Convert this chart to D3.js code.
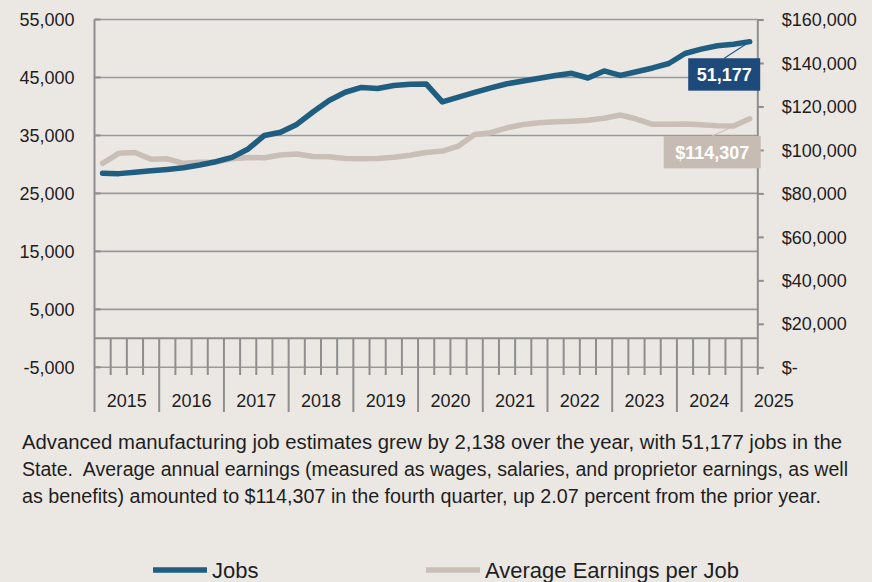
<!DOCTYPE html>
<html>
<head>
<meta charset="utf-8">
<script src="https://cdn.jsdelivr.net/npm/d3@7"></script>
<style>
  html, body { margin: 0; padding: 0; background: #ebe8e4; }
  svg { display: block; }
  text { font-family: "Liberation Sans", Arial, sans-serif; fill: #1e1e1e; }
</style>
</head>
<body>
<svg id="chart" width="872" height="582"></svg>
<script>
// ---------------- DATA ----------------
const quarters = [
  "2015 Q1","2015 Q2","2015 Q3","2015 Q4",
  "2016 Q1","2016 Q2","2016 Q3","2016 Q4",
  "2017 Q1","2017 Q2","2017 Q3","2017 Q4",
  "2018 Q1","2018 Q2","2018 Q3","2018 Q4",
  "2019 Q1","2019 Q2","2019 Q3","2019 Q4",
  "2020 Q1","2020 Q2","2020 Q3","2020 Q4",
  "2021 Q1","2021 Q2","2021 Q3","2021 Q4",
  "2022 Q1","2022 Q2","2022 Q3","2022 Q4",
  "2023 Q1","2023 Q2","2023 Q3","2023 Q4",
  "2024 Q1","2024 Q2","2024 Q3","2024 Q4",
  "2025 Q1"
];
const years = ["2015","2016","2017","2018","2019","2020","2021","2022","2023","2024","2025"];
const jobs = [
  28480, 28410, 28660, 28910,
  29140, 29430, 29910, 30470,
  31210, 32670, 35000, 35550,
  36900, 39050, 41030, 42450,
  43280, 43090, 43620, 43830,
  43880, 40780, 41590, 42410,
  43190, 43910, 44400, 44860,
  45350, 45720, 44910, 46120,
  45350, 45980, 46640, 47410,
  49140, 49880, 50470, 50720,
  51177
];
const earnings = [
  93840, 98440, 98810, 95680,
  95910, 93840, 94350, 94440,
  95910, 96510, 96370, 97660,
  98120, 96970, 96880, 96050,
  95960, 96050, 96600, 97570,
  98810, 99500, 101800, 107090,
  107920, 110170, 111690, 112470,
  112930, 113210, 113620, 114540,
  116060, 114220, 111780, 111780,
  111920, 111550, 111140, 111000,
  114307
];
const leftTicks = [-5000, 5000, 15000, 25000, 35000, 45000, 55000];
const rightTicks = [0, 20000, 40000, 60000, 80000, 100000, 120000, 140000, 160000];
const seriesNames = ["Jobs", "Average Earnings per Job"];
const jobsLabel = "51,177";
const earningsLabel = "$114,307";
const noteLines = [
  "Advanced manufacturing job estimates grew by 2,138 over the year, with 51,177 jobs in the",
  "State.  Average annual earnings (measured as wages, salaries, and proprietor earnings, as well",
  "as benefits) amounted to $114,307 in the fourth quarter, up 2.07 percent from the prior year."
];
const noteWidths = [820, 826, 799];

// ---------------- STYLE ----------------
const C = {
  jobs: "#1f5e81",
  earn: "#c9bfb7",
  jobsBox: "#1e4a7b",
  earnBox: "#c7bcb3",
  grid: "#9a9a9a",
  axis: "#8e8e8e"
};

const svg = d3.select("#chart");
const L = 94.5, R = 757.8, T = 19.5, B = 367.3;

const x = d3.scaleBand().domain(quarters).range([L, R]).padding(0);
const xc = q => x(q) + x.bandwidth() / 2;
const yL = d3.scaleLinear().domain([-5000, 55000]).range([B, T]);
const yR = d3.scaleLinear().domain([0, 160000]).range([B, T]);

// gridlines
svg.append("g").selectAll("line").data(leftTicks).join("line")
  .attr("x1", L).attr("x2", R)
  .attr("y1", d => yL(d)).attr("y2", d => yL(d))
  .attr("stroke", C.grid).attr("stroke-width", 1.6);

// left axis
const fmt = d3.format(",");
const leftAxis = d3.axisLeft(yL).tickValues(leftTicks).tickSize(0).tickPadding(20)
  .tickFormat(d => fmt(d).replace("\u2212", "-"));
const gl = svg.append("g").attr("transform", `translate(${L},0)`).call(leftAxis);
gl.select(".domain").remove();
gl.selectAll("text").style("font-size", "18px").attr("fill", "#1e1e1e")
  .attr("dy", "0.34em");
// inside ticks on left
svg.append("g").selectAll("line").data(leftTicks).join("line")
  .attr("x1", L).attr("x2", L + 6)
  .attr("y1", d => yL(d)).attr("y2", d => yL(d))
  .attr("stroke", C.axis).attr("stroke-width", 2);

// right axis
const rightAxis = d3.axisRight(yR).tickValues(rightTicks).tickSize(6).tickPadding(18)
  .tickFormat(d => d === 0 ? "$-" : "$" + fmt(d));
const gr = svg.append("g").attr("transform", `translate(${R},0)`).call(rightAxis);
gr.select(".domain").remove();
gr.selectAll(".tick line").attr("stroke", C.axis).attr("stroke-width", 2);
gr.selectAll("text").style("font-size", "18px").attr("fill", "#1e1e1e").attr("dy", "0.34em");

// vertical axis lines
svg.append("line").attr("x1", L).attr("x2", L).attr("y1", T).attr("y2", 412)
  .attr("stroke", C.axis).attr("stroke-width", 2);
svg.append("line").attr("x1", R).attr("x2", R).attr("y1", T).attr("y2", 375)
  .attr("stroke", C.axis).attr("stroke-width", 2);

// x axis (value 0 line)
const y0 = yL(0);
svg.append("line").attr("x1", L).attr("x2", R).attr("y1", y0).attr("y2", y0)
  .attr("stroke", C.axis).attr("stroke-width", 2);

// quarter ticks
const qBounds = quarters.slice(1);
svg.append("g").selectAll("line").data(qBounds).join("line")
  .attr("x1", d => x(d)).attr("x2", d => x(d))
  .attr("y1", y0)
  .attr("y2", d => d.endsWith("Q1") ? 412 : 375)
  .attr("stroke", C.axis).attr("stroke-width", 2);

// year labels
svg.append("g").selectAll("text").data(years).join("text")
  .attr("x", (d, i) => {
    const qs = quarters.filter(q => q.startsWith(d));
    const x0 = x(qs[0]), x1 = x(qs[qs.length - 1]) + x.bandwidth();
    return qs.length === 1 ? x1 + 16 : (x0 + x1) / 2;
  })
  .attr("y", 407)
  .attr("text-anchor", "middle")
  .style("font-size", "18px")
  .text(d => d);

// lines
const lineJobs = d3.line().x((d, i) => xc(quarters[i])).y(d => yL(d));
const lineEarn = d3.line().x((d, i) => xc(quarters[i])).y(d => yR(d));
svg.append("path").datum(earnings).attr("d", lineEarn)
  .attr("fill", "none").attr("stroke", C.earn).attr("stroke-width", 5.5)
  .attr("stroke-linejoin", "round").attr("stroke-linecap", "round");
svg.append("path").datum(jobs).attr("d", lineJobs)
  .attr("fill", "none").attr("stroke", C.jobs).attr("stroke-width", 5.5)
  .attr("stroke-linejoin", "round").attr("stroke-linecap", "round");

// data callouts
const last = quarters.length - 1;
function callout(px, py, bx, by, bw, bh, fill, lineColor, label) {
  svg.append("line").attr("x1", px).attr("y1", py).attr("x2", bx + bw / 2).attr("y2", by)
    .attr("stroke", lineColor).attr("stroke-width", 1.2);
  svg.append("rect").attr("x", bx).attr("y", by).attr("width", bw).attr("height", bh)
    .attr("fill", fill);
  svg.append("text").attr("x", bx + bw / 2).attr("y", by + bh / 2 + 6.5)
    .attr("text-anchor", "middle").style("font-size", "18px").style("font-weight", "bold")
    .style("fill", "#ffffff").text(label);
}
{
  const px = xc(quarters[last]), py = yL(jobs[last]);
  callout(px, py, px - 61.5, py + 16.6, 72, 32.4, C.jobsBox, C.jobs, jobsLabel);
}
{
  const px = xc(quarters[last]), py = yR(earnings[last]);
  callout(px, py, px - 86, py + 17.2, 97, 32.3, C.earnBox, C.earn, earningsLabel);
}

// note text
svg.append("g").selectAll("text").data(noteLines).join("text")
  .attr("x", 22).attr("y", (d, i) => 449 + i * 27)
  .style("font-size", "19.6px")
  .style("white-space", "pre")
  .attr("textLength", (d, i) => noteWidths[i])
  .attr("lengthAdjust", "spacingAndGlyphs")
  .text(d => d);

// legend
const legend = [
  { name: seriesNames[0], color: C.jobs, x1: 153, x2: 207, tx: 212 },
  { name: seriesNames[1], color: C.earn, x1: 426, x2: 480, tx: 485 }
];
const lg = svg.append("g");
legend.forEach(l => {
  lg.append("line").attr("x1", l.x1).attr("x2", l.x2).attr("y1", 570).attr("y2", 570)
    .attr("stroke", l.color).attr("stroke-width", 5.5);
  lg.append("text").attr("x", l.tx).attr("y", 578)
    .style("font-size", "22px")
    .text(l.name);
});
</script>
</body>
</html>
